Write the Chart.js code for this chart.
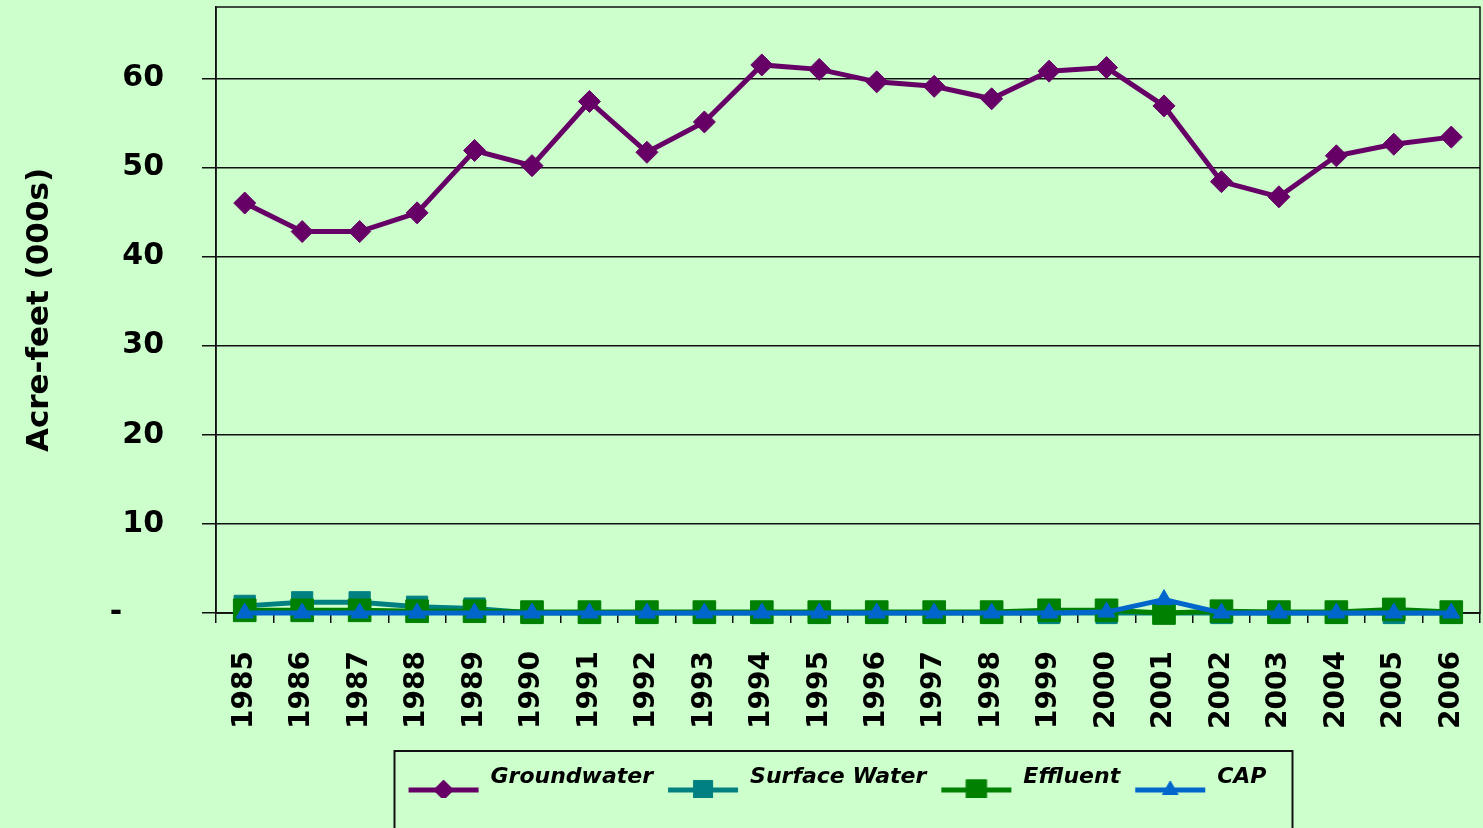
<!DOCTYPE html>
<html>
<head>
<meta charset="utf-8">
<script src="https://cdn.jsdelivr.net/npm/chart.js@4.4.1/dist/chart.umd.min.js"></script>
<style>
  html, body { margin: 0; padding: 0; background: #CCFFCC; }
  canvas { display: block; }
</style>
</head>
<body>
<canvas id="c" width="1483" height="828"></canvas>
<script>
// ---- Data ----
const years = ['1985','1986','1987','1988','1989','1990','1991','1992','1993','1994','1995',
               '1996','1997','1998','1999','2000','2001','2002','2003','2004','2005','2006'];
const groundwater  = [46.0, 42.8, 42.8, 44.9, 51.9, 50.2, 57.4, 51.7, 55.1, 61.5, 61.0,
                      59.6, 59.1, 57.7, 60.8, 61.2, 56.9, 48.4, 46.7, 51.3, 52.6, 53.4];
const surfaceWater = [0.8, 1.2, 1.2, 0.7, 0.5, 0, 0, 0, 0, 0, 0,
                      0, 0, 0, 0, 0, 0, 0, 0, 0, 0, 0];
const effluent     = [0.3, 0.3, 0.3, 0.2, 0.2, 0.1, 0.1, 0.1, 0.1, 0.1, 0.1,
                      0.1, 0.1, 0.1, 0.3, 0.3, 0.0, 0.2, 0.1, 0.1, 0.4, 0.1];
const cap          = [0, 0, 0, 0, 0, 0, 0, 0, 0, 0, 0,
                      0, 0, 0, 0, 0.1, 1.5, 0, 0, 0, 0, 0];
const seriesNames  = ['Groundwater', 'Surface Water', 'Effluent', 'CAP'];
const yTickValues  = [0, 10, 20, 30, 40, 50, 60];
const yTitle       = 'Acre-feet (000s)';

// ---- Styles ----
const colors = ['#660066', '#008080', '#008000', '#0066CC'];
const styles = ['rectRot', 'rect', 'rect', 'triangle'];
const radii  = [11, 15, 16, 10];

function makeSymbol(color, style, radius) {
  const c = document.createElement('canvas');
  c.width = 72; c.height = 60;
  const ctx = c.getContext('2d');
  ctx.strokeStyle = color; ctx.fillStyle = color; ctx.lineWidth = 5;
  ctx.beginPath(); ctx.moveTo(1, 43); ctx.lineTo(71, 43); ctx.stroke();
  ctx.lineWidth = 1;
  Chart.helpers.drawPoint(ctx, {pointStyle: style, radius: radius * 0.9, rotation: 0, borderWidth: 1}, 36, 43);
  return c;
}
const legendSymbols = colors.map((c, i) => makeSymbol(c, styles[i], radii[i]));

function zeroPad(scale) {
  scale.paddingTop = 0; scale.paddingBottom = 0;
  scale.paddingLeft = 0; scale.paddingRight = 0;
}

const bgPlugin = {
  id: 'bg',
  beforeDraw(chart) {
    const ctx = chart.ctx;
    ctx.save(); ctx.fillStyle = '#CCFFCC';
    ctx.fillRect(0, 0, chart.width, chart.height); ctx.restore();
  }
};
const framePlugin = {
  id: 'frame',
  afterLayout(chart) { if (chart.legend) chart.legend.left = 194; },
  beforeDatasetsDraw(chart) {
    const a = chart.chartArea, ctx = chart.ctx;
    ctx.save(); ctx.strokeStyle = '#111'; ctx.lineWidth = 1.5;
    ctx.strokeRect(a.left, a.top, a.right - a.left, a.bottom - a.top);
    ctx.restore();
  },
  afterDraw(chart) {
    const lg = chart.legend; if (!lg || !lg.legendHitBoxes.length) return;
    const hb = lg.legendHitBoxes;
    const l = hb[0].left - 13, r = hb[hb.length - 1].left + hb[hb.length - 1].width + 26;
    const ctx = chart.ctx;
    ctx.save(); ctx.strokeStyle = '#111'; ctx.lineWidth = 2;
    ctx.strokeRect(l, lg.top - 1, r - l, 200);
    ctx.restore();
  }
};

const allSeries = [groundwater, surfaceWater, effluent, cap];
const datasets = allSeries.map((d, i) => ({
  label: seriesNames[i],
  data: d,
  borderColor: colors[i],
  backgroundColor: colors[i],
  pointBackgroundColor: colors[i],
  pointBorderColor: colors[i],
  pointStyle: styles[i],
  pointRadius: radii[i],
  pointHoverRadius: radii[i],
  pointBorderWidth: 1,
  borderWidth: 5,
  tension: 0,
  fill: false,
  clip: false,
  order: 3 - i
}));

new Chart(document.getElementById('c'), {
  type: 'line',
  data: { labels: years, datasets },
  plugins: [bgPlugin, framePlugin],
  options: {
    responsive: false,
    animation: false,
    events: [],
    layout: { autoPadding: false, padding: { top: 7, right: 3, left: 0, bottom: 30 } },
    plugins: {
      tooltip: { enabled: false },
      legend: {
        position: 'bottom',
        labels: {
          usePointStyle: true,
          pointStyleWidth: 72,
          padding: 14,
          color: '#000',
          font: { family: 'DejaVu Sans', size: 22, weight: 'bold', style: 'italic' },
          generateLabels(chart) {
            return chart.data.datasets.map((ds, i) => ({
              text: ds.label, datasetIndex: i, hidden: false,
              pointStyle: legendSymbols[i], fillStyle: colors[i], strokeStyle: colors[i],
              lineWidth: 0, fontColor: '#000'
            }));
          }
        }
      }
    },
    scales: {
      x: {
        offset: true,
        grid: { display: true, drawOnChartArea: false, drawTicks: true, tickLength: 10, offset: true, color: '#111', lineWidth: 1.5 },
        border: { display: true, color: '#111', width: 1.5 },
        ticks: {
          autoSkip: false, minRotation: 90, maxRotation: 90, padding: 28, color: '#000',
          font: { family: 'DejaVu Sans', size: 28, weight: 'bold' }
        },
        afterFit(scale) { scale.height = 139; zeroPad(scale); }
      },
      y: {
        min: 0, max: 68,
        grid: { color: '#111', lineWidth: 1.5, tickLength: 14, drawTicks: true },
        border: { display: true, color: '#111', width: 1.5 },
        ticks: {
          stepSize: 10, includeBounds: false, padding: 38, color: '#000',
          font: { family: 'DejaVu Sans', size: 30, weight: 'bold' },
          callback: (v) => v === 0 ? '-    ' : String(v)
        },
        afterBuildTicks(scale) {
          scale.ticks = yTickValues.map(v => ({ value: v }));
        },
        title: {
          display: true, text: yTitle, color: '#000',
          font: { family: 'DejaVu Sans', size: 31, weight: 'bold' },
          padding: { top: 21, bottom: 0 }
        },
        afterFit(scale) { scale.width = 216; zeroPad(scale); }
      }
    }
  }
});
</script>
</body>
</html>
